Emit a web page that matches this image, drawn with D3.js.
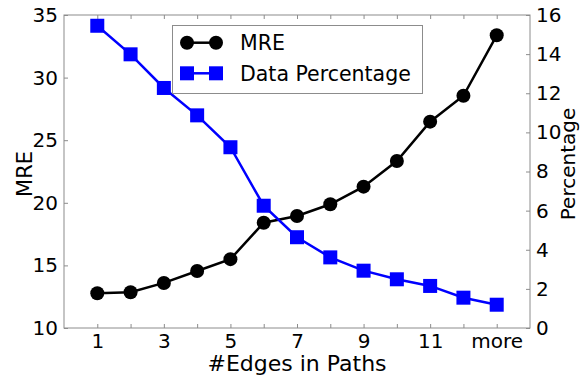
<!DOCTYPE html>
<html>
<head>
<meta charset="utf-8">
<script src="https://cdn.jsdelivr.net/npm/d3@7"></script>
<style>
  html, body { margin: 0; padding: 0; background: #fff; }
  svg { display: block; }
  text { font-family: "DejaVu Sans", sans-serif; fill: #000; }
</style>
</head>
<body>
<svg id="chart" width="581" height="377"></svg>
<script>
// Path length buckets (13 = "more")
const edges = [1, 2, 3, 4, 5, 6, 7, 8, 9, 10, 11, 12, 13];
const xTickLabels = ["1", "", "3", "", "5", "", "7", "", "9", "", "11", "", "more"];
// Mean relative error per bucket (left axis)
const mre = [12.77, 12.85, 13.6, 14.55, 15.5, 18.41, 18.95, 19.88, 21.29, 23.34, 26.48, 28.55, 33.38];
// Share of data per bucket, % (right axis)
const dataPct = [15.45, 13.99, 12.27, 10.87, 9.24, 6.25, 4.64, 3.61, 2.93, 2.49, 2.15, 1.55, 1.19];
const leftTicks = [10, 15, 20, 25, 30, 35];
const rightTicks = [0, 2, 4, 6, 8, 10, 12, 14, 16];

const svg = d3.select("#chart");
const L = 64, R = 530, T = 15, B = 328;
const frameColor = "#8c8c8c";

const x = d3.scaleLinear().domain([0, 14]).range([L, R]);
const yL = d3.scaleLinear().domain([10, 35]).range([B, T]);
const yR = d3.scaleLinear().domain([0, 16]).range([B, T]);

const tickLen = 4;

// Axes: inward ticks, labels outside
const axisBottom = d3.axisBottom(x).tickValues(edges)
  .tickFormat((d, i) => xTickLabels[i]).tickSizeInner(-tickLen).tickSizeOuter(0).tickPadding(6);
const axisTop = d3.axisTop(x).tickValues(edges).tickFormat("").tickSizeInner(-tickLen).tickSizeOuter(0);
const axisLeft = d3.axisLeft(yL).tickValues(leftTicks).tickFormat(d3.format("d"))
  .tickSizeInner(-tickLen).tickSizeOuter(0).tickPadding(6);
const axisRight = d3.axisRight(yR).tickValues(rightTicks).tickFormat(d3.format("d"))
  .tickSizeInner(-tickLen).tickSizeOuter(0).tickPadding(6);

function styleAxis(g) {
  g.select(".domain").remove();
  g.selectAll(".tick line").attr("stroke", frameColor).attr("stroke-width", 1);
  g.selectAll(".tick text").style("font-family", "DejaVu Sans").style("font-size", "20px").attr("fill", "#000");
}

svg.append("g").attr("transform", `translate(0,${B})`).call(axisBottom).call(styleAxis);
svg.append("g").attr("transform", `translate(0,${T})`).call(axisTop).call(styleAxis);
svg.append("g").attr("transform", `translate(${L},0)`).call(axisLeft).call(styleAxis);
svg.append("g").attr("transform", `translate(${R},0)`).call(axisRight).call(styleAxis);

// Frame
svg.append("rect")
  .attr("x", L).attr("y", T).attr("width", R - L).attr("height", B - T)
  .attr("fill", "none").attr("stroke", frameColor).attr("stroke-width", 1);

// Axis titles
svg.append("text").attr("x", (L + R) / 2).attr("y", 371)
  .attr("text-anchor", "middle").style("font-size", "22px").text("#Edges in Paths");
svg.append("text").attr("transform", "translate(32,174) rotate(-90)")
  .attr("text-anchor", "middle").style("font-size", "21px").text("MRE");
svg.append("text").attr("transform", "translate(575,164) rotate(-90)")
  .attr("text-anchor", "middle").style("font-size", "20px").text("Percentage");

// MRE series
const lineL = d3.line().x((d, i) => x(edges[i])).y(d => yL(d));
svg.append("path").datum(mre).attr("d", lineL)
  .attr("fill", "none").attr("stroke", "#000").attr("stroke-width", 2.5);
svg.append("g").selectAll("circle").data(mre).join("circle")
  .attr("cx", (d, i) => x(edges[i])).attr("cy", d => yL(d)).attr("r", 7).attr("fill", "#000");

// Data percentage series
const sq = 14;
const lineR = d3.line().x((d, i) => x(edges[i])).y(d => yR(d));
svg.append("path").datum(dataPct).attr("d", lineR)
  .attr("fill", "none").attr("stroke", "#0000ff").attr("stroke-width", 2.5);
svg.append("g").selectAll("rect").data(dataPct).join("rect")
  .attr("x", (d, i) => x(edges[i]) - sq / 2).attr("y", d => yR(d) - sq / 2)
  .attr("width", sq).attr("height", sq).attr("fill", "#0000ff");

// Legend
const legend = svg.append("g");
legend.append("rect").attr("x", 172.5).attr("y", 25.5).attr("width", 250).attr("height", 68)
  .attr("fill", "#fff").attr("stroke", frameColor).attr("stroke-width", 1);
const entries = [
  { name: "MRE", color: "#000", shape: "circle", y: 42.7 },
  { name: "Data Percentage", color: "#0000ff", shape: "square", y: 73.3 }
];
entries.forEach(e => {
  const g = legend.append("g");
  g.append("line").attr("x1", 187).attr("x2", 216).attr("y1", e.y).attr("y2", e.y)
    .attr("stroke", e.color).attr("stroke-width", 2.5);
  [187, 216].forEach(cx => {
    if (e.shape === "circle") {
      g.append("circle").attr("cx", cx).attr("cy", e.y).attr("r", 7).attr("fill", e.color);
    } else {
      g.append("rect").attr("x", cx - sq / 2).attr("y", e.y - sq / 2)
        .attr("width", sq).attr("height", sq).attr("fill", e.color);
    }
  });
  g.append("text").attr("x", 240).attr("y", e.y).attr("dy", "0.36em")
    .style("font-size", "20.5px").text(e.name);
});
</script>
</body>
</html>
